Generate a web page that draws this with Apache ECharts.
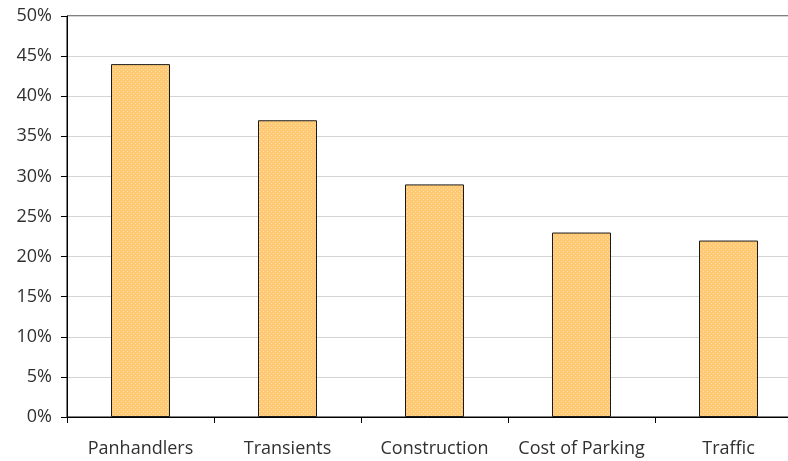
<!DOCTYPE html>
<html>
<head>
<meta charset="utf-8">
<script src="https://cdn.jsdelivr.net/npm/echarts@6/dist/echarts.min.js"></script>
<style>
  html, body { margin: 0; padding: 0; background: #fff; }
  #chart { width: 788px; height: 461px; }
</style>
</head>
<body>
<div id="chart"></div>
<script>
// Share of respondents citing each issue
const categories = ['Panhandlers', 'Transients', 'Construction', 'Cost of Parking', 'Traffic'];
const shares = [44, 37, 29, 23, 22];

// Dotted orange fill for the bars
function dotPattern() {
  const c = document.createElement('canvas');
  c.width = 4; c.height = 4;
  const ctx = c.getContext('2d');
  ctx.fillStyle = '#FFC872';
  ctx.fillRect(0, 0, 4, 4);
  ctx.fillStyle = '#FFE2AE';
  ctx.fillRect(1, 1, 1, 1);
  ctx.fillRect(3, 3, 1, 1);
  return c;
}

const chart = echarts.init(document.getElementById('chart'), null, { renderer: 'canvas' });
const font = '"Open Sans", Lato, sans-serif';

chart.setOption({
  animation: false,
  grid: {
    left: 67, width: 735, top: 16, height: 401,
    outerBoundsMode: 'none',
    containLabel: false,
    show: true, borderColor: '#000', borderWidth: 1, backgroundColor: 'transparent'
  },
  xAxis: {
    type: 'category',
    data: categories,
    axisLine: { lineStyle: { color: '#000', width: 1 } },
    axisTick: { show: true, length: 6, inside: false, lineStyle: { color: '#000' } },
    axisLabel: { color: '#303030', fontFamily: font, fontSize: 18, margin: 23, interval: 0 }
  },
  yAxis: {
    type: 'value',
    min: 0, max: 50, interval: 5,
    axisLine: { show: true, lineStyle: { color: '#000', width: 1 } },
    axisTick: { show: true, length: 6, lineStyle: { color: '#000' } },
    axisLabel: { color: '#303030', fontFamily: font, fontSize: 18, margin: 15, formatter: '{value}%' },
    splitLine: { lineStyle: { color: '#d4d4d4', width: 1 } }
  },
  series: [{
    type: 'bar',
    data: shares,
    barWidth: 59,
    itemStyle: {
      color: { image: dotPattern(), repeat: 'repeat' },
      borderColor: '#1a1a1a',
      borderWidth: 1
    }
  }]
});
</script>
</body>
</html>
